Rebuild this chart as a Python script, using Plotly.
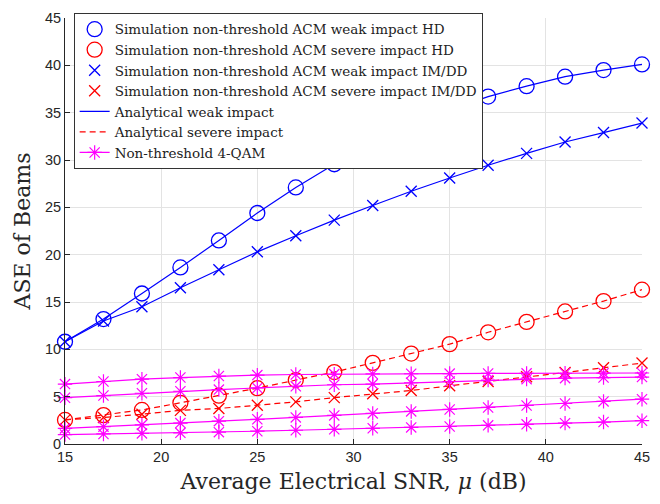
import plotly.graph_objects as go

snr = [15, 17, 19, 21, 23, 25, 27, 29, 31, 33, 35, 37, 39, 41, 43, 45]

weak_hd = [10.8, 13.2, 15.9, 18.65, 21.5, 24.4, 27.1, 29.55, 31.7, 33.6, 35.3, 36.7, 37.8, 38.8, 39.5, 40.1]
weak_imdd = [10.8, 13.0, 14.5, 16.5, 18.4, 20.3, 22.0, 23.65, 25.2, 26.7, 28.1, 29.45, 30.7, 31.9, 32.9, 33.9]
severe_hd = [2.54, 3.05, 3.6, 4.35, 5.1, 5.9, 6.75, 7.6, 8.57, 9.55, 10.55, 11.8, 12.9, 14.0, 15.1, 16.3]
severe_imdd = [2.55, 2.8, 3.15, 3.55, 3.75, 4.1, 4.45, 4.9, 5.3, 5.65, 6.15, 6.6, 7.1, 7.55, 8.05, 8.55]

qam_a = [6.33, 6.6, 6.85, 7.02, 7.18, 7.28, 7.34, 7.38, 7.4, 7.42, 7.44, 7.45, 7.46, 7.47, 7.48, 7.5]
qam_b = [4.89, 5.12, 5.36, 5.57, 5.75, 5.92, 6.09, 6.26, 6.33, 6.47, 6.6, 6.75, 6.85, 6.96, 7.02, 7.07]
qam_c = [1.65, 1.83, 2.02, 2.21, 2.41, 2.61, 2.81, 3.02, 3.23, 3.44, 3.65, 3.86, 4.07, 4.28, 4.5, 4.73]
qam_d = [1.0, 1.06, 1.12, 1.18, 1.25, 1.35, 1.45, 1.55, 1.66, 1.75, 1.85, 1.97, 2.08, 2.2, 2.32, 2.46]

x_ticks = [15, 20, 25, 30, 35, 40, 45]
y_ticks = [0, 5, 10, 15, 20, 25, 30, 35, 40, 45]

BLUE = "rgb(0,0,255)"
RED = "rgb(255,0,0)"
MAG = "rgb(255,0,255)"
LW = 1.2
SERIF = "DejaVu Serif"

fig = go.Figure()

# analytical lines
fig.add_trace(go.Scatter(x=snr, y=weak_hd, mode="lines", line=dict(color=BLUE, width=LW),
                         showlegend=False, legendgroup="aw", cliponaxis=False))
fig.add_trace(go.Scatter(x=snr, y=weak_imdd, mode="lines", line=dict(color=BLUE, width=LW),
                         showlegend=False, legendgroup="aw", cliponaxis=False))
fig.add_trace(go.Scatter(x=snr, y=severe_hd, mode="lines", line=dict(color=RED, width=LW, dash="6px,4px"),
                         showlegend=False, legendgroup="as", cliponaxis=False))
fig.add_trace(go.Scatter(x=snr, y=severe_imdd, mode="lines", line=dict(color=RED, width=LW, dash="6px,4px"),
                         showlegend=False, legendgroup="as", cliponaxis=False))

# simulation markers
fig.add_trace(go.Scatter(x=snr, y=weak_hd, mode="markers",
                         marker=dict(symbol="circle-open", size=15, color=BLUE, line=dict(width=1.3, color=BLUE)),
                         name="Simulation non-threshold ACM weak impact HD", cliponaxis=False))
fig.add_trace(go.Scatter(x=snr, y=severe_hd, mode="markers",
                         marker=dict(symbol="circle-open", size=15, color=RED, line=dict(width=1.3, color=RED)),
                         name="Simulation non-threshold ACM severe impact HD", cliponaxis=False))
fig.add_trace(go.Scatter(x=snr, y=weak_imdd, mode="markers",
                         marker=dict(symbol="x-thin-open", size=11, color=BLUE, line=dict(width=1.3, color=BLUE)),
                         name="Simulation non-threshold ACM weak impact IM/DD", cliponaxis=False))
fig.add_trace(go.Scatter(x=snr, y=severe_imdd, mode="markers",
                         marker=dict(symbol="x-thin-open", size=11, color=RED, line=dict(width=1.3, color=RED)),
                         name="Simulation non-threshold ACM severe impact IM/DD", cliponaxis=False))

# legend-only entries for analytical lines
fig.add_trace(go.Scatter(x=[None], y=[None], mode="lines", line=dict(color=BLUE, width=LW),
                         name="Analytical weak impact", legendgroup="aw"))
fig.add_trace(go.Scatter(x=[None], y=[None], mode="lines", line=dict(color=RED, width=LW, dash="6px,4px"),
                         name="Analytical severe impact", legendgroup="as"))

# 4-QAM
for i, q in enumerate([qam_a, qam_b, qam_c, qam_d]):
    fig.add_trace(go.Scatter(x=snr, y=q, mode="lines+markers",
                             line=dict(color=MAG, width=LW),
                             marker=dict(symbol="asterisk-open", size=12, color=MAG, line=dict(width=1.2, color=MAG)),
                             name="Non-threshold 4-QAM", legendgroup="qam", showlegend=(i == 0),
                             cliponaxis=False))

AX = "#262626"
fig.update_layout(
    width=660, height=504,
    margin=dict(l=65, r=10, t=10, b=60),
    paper_bgcolor="white", plot_bgcolor="white",
    font=dict(family="Liberation Sans", size=14, color=AX),
    legend=dict(x=0.015, y=1.012, xanchor="left", yanchor="top",
                bgcolor="white", bordercolor="#333333", borderwidth=1,
                font=dict(family=SERIF, size=13.5, color="#222222"),
                tracegroupgap=0, itemwidth=30),
    xaxis=dict(range=[15, 45], tickvals=x_ticks, ticktext=[str(v) for v in x_ticks],
               showgrid=True, gridcolor="#e3e3e3", zeroline=False,
               showline=True, linecolor=AX, linewidth=1, ticks="inside", ticklen=5, tickcolor=AX,
               tickfont=dict(family="Liberation Sans", size=14.5, color=AX),
               title=dict(text="Average Electrical SNR, <i>μ</i> (dB)",
                          font=dict(family=SERIF, size=22, color=AX), standoff=9)),
    yaxis=dict(range=[0, 45], tickvals=y_ticks, ticktext=[str(v) for v in y_ticks],
               showgrid=True, gridcolor="#e3e3e3", zeroline=False,
               showline=True, linecolor=AX, linewidth=1, ticks="inside", ticklen=5, tickcolor=AX,
               tickfont=dict(family="Liberation Sans", size=14.5, color=AX),
               title=dict(text="ASE of Beams",
                          font=dict(family=SERIF, size=22, color=AX), standoff=8)),
)

fig.write_html("out.html")
